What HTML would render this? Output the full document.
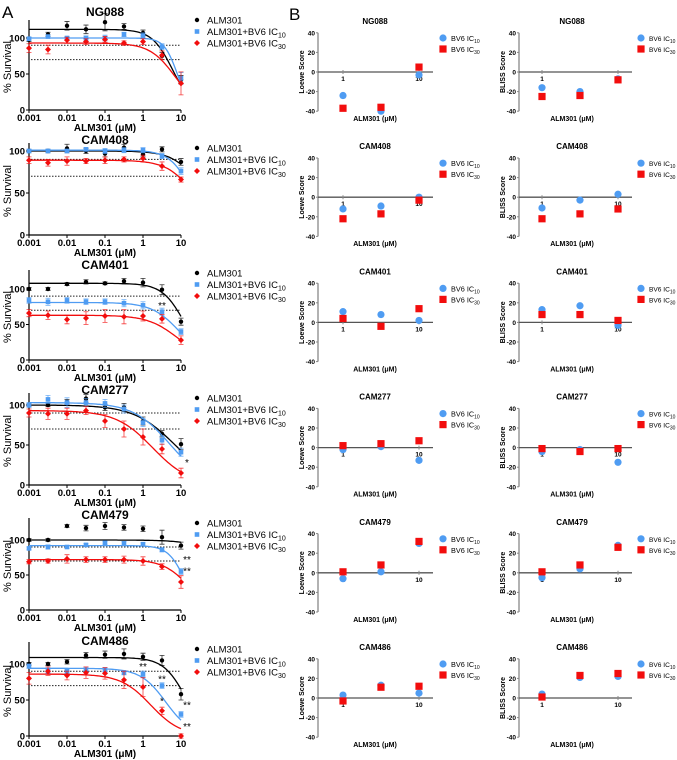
<!DOCTYPE html>
<html><head><meta charset="utf-8">
<style>
body{margin:0;background:#fff;}
svg{display:block;font-family:"Liberation Sans",Arial,sans-serif;}
</style></head>
<body>
<svg id="fig" width="677" height="760" viewBox="0 0 677 760" xmlns="http://www.w3.org/2000/svg">
<text x="2" y="18" font-size="17">A</text>
<text x="289" y="20" font-size="17">B</text>
</svg>
<script>
// ---------- Panel A data ----------
const cellLines = ["NG088","CAM408","CAM401","CAM277","CAM479","CAM486"];
const doses = [0.001,0.00316,0.01,0.0316,0.1,0.316,1,3.16,10];
const xTickValues = [0.001,0.01,0.1,1,10];
const xTickLabels = ["0.001","0.01","0.1","1","10"];
const yTickValues = [0,50,100];
const blackVals = [
 [98,105,117,112,122,116,107,75,42],
 [100,100,103,100,97,104,96,102,87],
 [100,100,107,110,108,111,109,99,54],
 [100,100,104,108,97,97,80,64,51],
 [100,100,120,117,120,118,116,104,92],
 [100,100,103,112,113,114,110,105,58]];
const blueVals = [
 [99,102,100,100,100,105,103,88,44],
 [100,100,100,102,100,101,101,94,76],
 [84,82,84,82,82,80,77,68,40],
 [100,107,103,103,102,95,78,56,41],
 [88,90,90,93,96,95,94,86,55],
 [97,90,90,92,92,88,86,70,30]];
const redVals = [
 [86,84,97,95,98,93,95,76,37],
 [89,86,88,88,89,90,91,82,66],
 [66,63,57,59,62,61,62,58,28],
 [90,89,89,93,80,70,60,45,15],
 [69,70,73,72,72,72,70,62,40],
 [80,90,84,88,87,78,68,35,0]];
const blackErr = [[3,3,6,6,12,4,4,5,6],[2,2,5,3,4,4,3,3,4],[2,2,2,3,2,4,6,7,5],[2,2,3,5,4,5,5,4,7],[2,2,2,4,5,4,4,10,5],[2,2,3,4,5,7,5,7,8]];
const blueErr = [[2,2,2,3,4,3,4,4,8],[2,2,2,2,3,3,3,3,4],[4,5,4,4,4,5,5,5,4],[3,5,6,5,5,5,5,5,5],[2,3,2,2,2,3,2,3,4],[3,3,3,3,3,3,4,4,4]];
const redErr = [[6,6,4,4,4,3,4,6,16],[4,4,5,3,4,3,4,5,3],[5,6,6,9,9,10,7,6,6],[5,7,7,5,8,10,10,6,6],[3,3,6,4,4,5,6,4,9],[8,6,6,8,8,12,13,5,3]];
// fit curve params: top, ec50, hill
const blackFit = [[112,6,1.6],[100,40,1.2],[108,12,1.5],[100,7,0.8],[100,300,1],[109,13,1.5]];
const blueFit = [[100,8,2.5],[101,20,1.5],[81,9,1.2],[103,5,0.9],[92,12,2],[94,4,1.3]];
const redFit = [[93,7,1.3],[89,25,1.2],[63,8,1.1],[93,1.8,0.9],[72,15,1.3],[86,1.6,1.1]];
const stars = [[],[],[["**",3.16,72,"blue"]],[["*",10,24,"red"]],[["**",10,67,"blue"],["**",10,51,"red"]],[["**",1,92,"blue"],["**",3.16,74,"blue"],["*",3.16,44,"red"],["**",10,38,"blue"],["**",10,8,"red"]]];

// ---------- Panel B data ----------
const bDoses = [1,3.16,10];
const bTickValues = [1,10];
const bTickLabels = ["1","10"];
const bYTicks = [-40,-20,0,20,40];
const loeweBlue = [[-24,-40,-3],[-12,-9,0],[11,8,2],[-2,1,-13],[-6,1,30],[3,13,5]];
const loeweRed = [[-37,-36,5],[-22,-17,-3],[4,-4,14],[2,4,7],[1,8,32],[-3,11,12]];
const blissBlue = [[-16,-20,-7],[-11,-3,3],[13,17,-3],[-4,-2,-15],[-5,4,28],[4,21,22]];
const blissRed = [[-25,-24,-8],[-22,-17,-12],[8,8,2],[-1,-4,-1],[1,8,26],[1,23,25]];

// ---------- layout ----------
const svg = document.getElementById('fig');
const NS = "http://www.w3.org/2000/svg";
const BLACK="#000", BLUE="#4f9cf2", RED="#f20d0d";
const colorOf = {black:BLACK, blue:BLUE, red:RED};
const rowsA = [ {y0:110,y100:38,top:20,ty:16},{y0:235,y100:151,top:143,ty:144},{y0:360,y100:289,top:270,ty:269},
                {y0:485,y100:405,top:393,ty:394},{y0:610,y100:540,top:518,ty:519},{y0:736,y100:664,top:642,ty:645} ];
function el(tag, attrs, parent){
  const e=document.createElementNS(NS,tag);
  for(const k in attrs) e.setAttribute(k,attrs[k]);
  (parent||svg).appendChild(e); return e;
}
const AX0=29, AX1=181;
function ax(v){ return AX0 + (Math.log10(v)+3)/4*(AX1-AX0); }

cellLines.forEach((name,r)=>{
  const R=rowsA[r];
  const ay = v => R.y0 - v*(R.y0-R.y100)/100;
  const g=el('g',{});
  
  
  const t=el('text',{x:105,y:R.ty,'font-size':12,'font-weight':'bold','text-anchor':'middle'},g);
  t.textContent=name;
  
  
  const yAxis=el('line',{x1:AX0,y1:R.top,x2:AX0,y2:R.y0,stroke:'#000','stroke-width':1.2},g);
  
  
  const xAxis=el('line',{x1:AX0,y1:R.y0,x2:AX1,y2:R.y0,stroke:'#000','stroke-width':1.2},g);
  
  
  yTickValues.forEach(v=>{
    el('line',{x1:AX0-3,y1:ay(v),x2:AX0,y2:ay(v),stroke:'#000'},g);
    const tl=el('text',{x:AX0-4,y:ay(v)+3.5,'font-size':9.5,'font-weight':'bold','text-anchor':'end'},g);
    tl.textContent=v;
    
    
  });
  xTickValues.forEach((v,i)=>{
    el('line',{x1:ax(v),y1:R.y0,x2:ax(v),y2:R.y0+3,stroke:'#000'},g);
    const tl=el('text',{x:ax(v),y:R.y0+11,'font-size':9.5,'font-weight':'bold','text-anchor':'middle'},g);
    tl.textContent=xTickLabels[i];
    
    
  });
  const xl=el('text',{x:105,y:R.y0+21,'font-size':10,'font-weight':'bold','text-anchor':'middle'},g);
  xl.textContent='ALM301 (μM)';
  
  
  const yl=el('text',{x:0,y:0,'font-size':11,'text-anchor':'middle',transform:`translate(11,${(R.y0+R.top)/2+2}) rotate(-90)`},g);
  yl.textContent='% Survival';
  
  
  [90,70].forEach(v=>{
    const dl=el('line',{x1:AX0+2,y1:ay(v),x2:AX1,y2:ay(v),stroke:'#222','stroke-width':1,'stroke-dasharray':'1.5,1.5'},g);
    
    
  });
  const series=[['black',blackVals[r],blackErr[r],blackFit[r]],['blue',blueVals[r],blueErr[r],blueFit[r]],['red',redVals[r],redErr[r],redFit[r]]];
  series.forEach(([c,vals,errs,fit])=>{
    const col=colorOf[c];
    let d='';
    for(let i=0;i<=80;i++){
      const lx=-3+4*i/80, x=Math.pow(10,lx);
      const y=fit[0]/(1+Math.pow(x/fit[1],fit[2]));
      d+=(i?'L':'M')+ax(x).toFixed(1)+','+ay(y).toFixed(1);
    }
    const p=el('path',{d:d,fill:'none',stroke:col,'stroke-width':1.3},g);
    
    
    vals.forEach((v,i)=>{
      const x=ax(doses[i]), y=ay(v), e=errs[i]*(R.y0-R.y100)/100;
      el('path',{d:`M${x},${y-e}V${y+e}M${x-2.5},${y-e}H${x+2.5}M${x-2.5},${y+e}H${x+2.5}`,stroke:col,'stroke-width':0.8,fill:'none','opacity':0.8},g);
      let m;
      if(c==='black') m=el('circle',{cx:x,cy:y,r:2.2,fill:col},g);
      else if(c==='blue') m=el('rect',{x:x-2.3,y:y-2.3,width:4.6,height:4.6,fill:col},g);
      else m=el('path',{d:`M${x},${y-3}L${x+3},${y}L${x},${y+3}L${x-3},${y}Z`,fill:col},g);
      
      
    });
  });
  stars[r].forEach(s=>{
    const st=el('text',{x:ax(s[1])+(s[1]===10?6:0),y:ay(s[2]),'font-size':10,'text-anchor':'middle'},g);
    st.textContent=s[0];
    
    
  });
  const lt=R.ty-4;
  [['ALM301','',BLACK,'c'],['ALM301+BV6 IC','10',BLUE,'s'],['ALM301+BV6 IC','30',RED,'d']].forEach((L,i)=>{
    const y=lt+8+i*11.5;
    if(L[3]==='c') el('circle',{cx:197,cy:y,r:2.2,fill:L[2]},g);
    else if(L[3]==='s') el('rect',{x:194.7,y:y-2.3,width:4.6,height:4.6,fill:L[2]},g);
    else el('path',{d:`M197,${y-3}L200,${y}L197,${y+3}L194,${y}Z`,fill:L[2]},g);
    const tx=el('text',{x:207,y:y+3.5,'font-size':9.5},g);
    
    
    tx.textContent=L[0];
    if(L[1]){ const sb=el('tspan',{'font-size':7,dy:2.5},tx); sb.textContent=L[1]; }
  });
});

// ---------- Panel B ----------
const panelsB=[{name:'Loewe Score',blue:loeweBlue,red:loeweRed,axX:318,x1:343,x10:419,end:433,tx:375,lgx:443,yl:304,lf:7.3},
               {name:'BLISS Score',blue:blissBlue,red:blissRed,axX:519,x1:542,x10:618,end:632,tx:572,lgx:641,yl:505,lf:6.6}];
cellLines.forEach((name,r)=>{
  const z=72+r*125.2;
  const by = v => z - v*0.98;
  panelsB.forEach(P=>{
    const bx = v => P.x1 + Math.log10(v)*(P.x10-P.x1);
    const g=el('g',{});
    
    
    const t=el('text',{x:P.tx,y:z-48,'font-size':8,'font-weight':'bold','text-anchor':'middle'},g);
    t.textContent=name;
    
    
    const ya=el('line',{x1:P.axX,y1:by(40),x2:P.axX,y2:by(-40),stroke:'#888','stroke-width':1.3},g);
    
    
    const za=el('line',{x1:P.axX,y1:z,x2:P.end,y2:z,stroke:'#555','stroke-width':1.3},g);
    
    
    bYTicks.forEach(v=>{
      el('line',{x1:P.axX-2,y1:by(v),x2:P.axX,y2:by(v),stroke:'#888'},g);
      const tl=el('text',{x:P.axX-3,y:by(v)+2.5,'font-size':6.5,'font-weight':'bold','text-anchor':'end'},g);
      tl.textContent=v;
      
      
    });
    bTickValues.forEach((v,i)=>{
      el('line',{x1:bx(v),y1:z-2,x2:bx(v),y2:z+2,stroke:'#888'},g);
      const tl=el('text',{x:bx(v),y:z+9,'font-size':6.5,'font-weight':'bold','text-anchor':'middle'},g);
      tl.textContent=bTickLabels[i];
      
      
    });
    const xl=el('text',{x:P.tx,y:z+49,'font-size':7,'font-weight':'bold','text-anchor':'middle'},g);
    xl.textContent='ALM301 (μM)';
    
    
    const yl=el('text',{x:0,y:0,'font-size':7,'font-weight':'bold','text-anchor':'middle',transform:`translate(${P.yl},${z}) rotate(-90)`},g);
    yl.textContent=P.name;
    
    
    P.blue[r].forEach((v,i)=>{
      const c=el('circle',{cx:bx(bDoses[i]),cy:by(v),r:3.6,fill:BLUE},g);
      
      
    });
    P.red[r].forEach((v,i)=>{
      const s=el('rect',{x:bx(bDoses[i])-3.6,y:by(v)-3.6,width:7.2,height:7.2,fill:RED},g);
      
      
    });
    [['10',BLUE,'c'],['30',RED,'s']].forEach((L,i)=>{
      const y=z-34+i*11;
      if(L[2]==='c') el('circle',{cx:P.lgx,cy:y,r:3.6,fill:L[1]},g);
      else el('rect',{x:P.lgx-3.6,y:y-3.6,width:7.2,height:7.2,fill:L[1]},g);
      const tx=el('text',{x:P.lgx+8,y:y+3,'font-size':P.lf},g);
      
      
      tx.textContent='BV6 IC';
      const sb=el('tspan',{'font-size':5,dy:2},tx); sb.textContent=L[0];
    });
  });
});
</script>
</body></html>
